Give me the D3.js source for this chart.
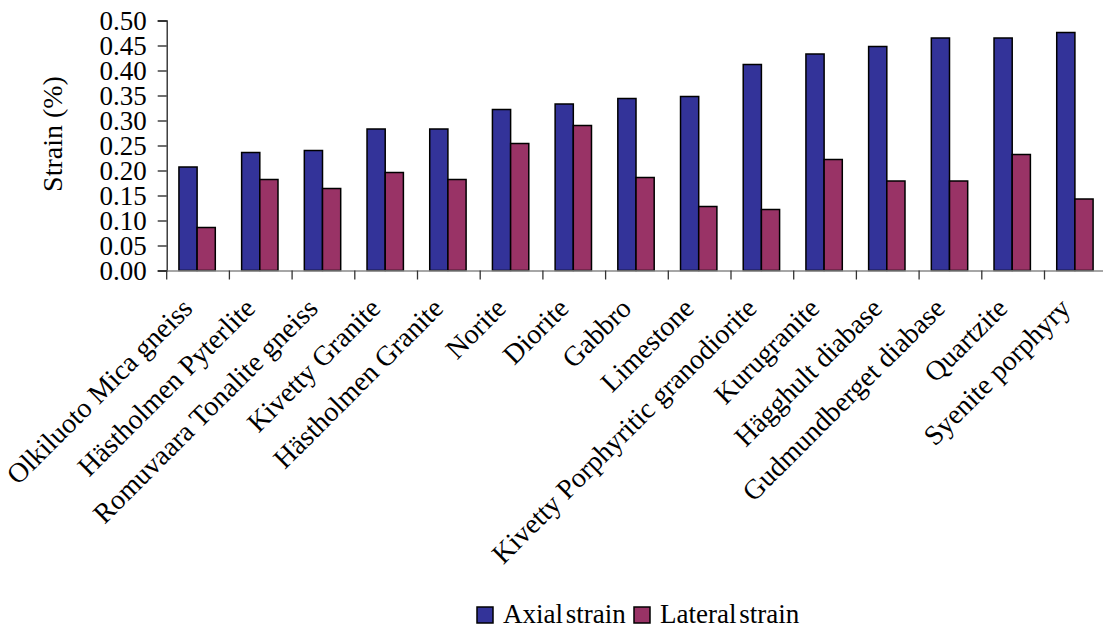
<!DOCTYPE html>
<html>
<head>
<meta charset="utf-8">
<script src="https://cdn.jsdelivr.net/npm/d3@7"></script>
<style>
  html, body { margin: 0; padding: 0; background: #ffffff; }
  svg { display: block; font-family: "Liberation Serif", "Times New Roman", serif; }
</style>
</head>
<body>
<svg id="chart" width="1103" height="628"></svg>
<script>
// Rock types, in order of increasing axial strain
const categories = [
  "Olkiluoto Mica gneiss", "Hästholmen Pyterlite", "Romuvaara Tonalite gneiss",
  "Kivetty Granite", "Hästholmen Granite", "Norite", "Diorite", "Gabbro",
  "Limestone", "Kivetty Porphyritic granodiorite", "Kurugranite",
  "Hägghult diabase", "Gudmundberget diabase", "Quartzite", "Syenite porphyry"
];
// Strain at failure (%)
const axialStrain   = [0.207, 0.236, 0.240, 0.283, 0.283, 0.322, 0.333, 0.344, 0.348, 0.412, 0.433, 0.448, 0.465, 0.465, 0.476];
const lateralStrain = [0.086, 0.182, 0.164, 0.196, 0.182, 0.254, 0.290, 0.186, 0.128, 0.122, 0.222, 0.179, 0.179, 0.232, 0.143];
const seriesNames = ["Axial strain", "Lateral strain"];
const seriesColors = ["#333399", "#993366"];
const yTicks = [0, 0.05, 0.10, 0.15, 0.20, 0.25, 0.30, 0.35, 0.40, 0.45, 0.50];

const svg = d3.select("#chart");
const plot = { left: 166.7, right: 1107.2, top: 20.5, bottom: 270.5 };

const x = d3.scaleBand().domain(categories).range([plot.left, plot.right]).padding(0);
const cw = x.bandwidth();
const xs = d3.scaleBand().domain(seriesNames).range([cw * 0.195, cw * 0.775]).padding(0);
const y = d3.scaleLinear().domain([0, 0.5]).range([plot.bottom, plot.top]);

const rows = categories.map((c, i) => ({ c, vals: [axialStrain[i], lateralStrain[i]] }));

// Bars
const groups = svg.append("g").selectAll("g").data(rows).join("g")
  .attr("transform", d => `translate(${x(d.c)},0)`);
groups.selectAll("rect")
  .data(d => d.vals.map((v, k) => ({ k, v })))
  .join("rect")
  .attr("x", d => xs(seriesNames[d.k]))
  .attr("width", xs.bandwidth())
  .attr("y", d => y(d.v))
  .attr("height", d => y(0) - y(d.v))
  .attr("fill", d => seriesColors[d.k])
  .attr("stroke", "#000")
  .attr("stroke-width", 1.5);

// Y axis
const yAxis = svg.append("g")
  .attr("transform", `translate(${plot.left},0)`)
  .call(d3.axisLeft(y).tickValues(yTicks).tickFormat(d3.format(".2f")).tickSize(9).tickPadding(11));
yAxis.select(".domain").attr("stroke", "#222").attr("stroke-width", 1.3);
yAxis.selectAll(".tick line").attr("stroke", "#222").attr("stroke-width", 1.3);
yAxis.selectAll(".tick text")
  .attr("font-size", 27).attr("fill", "#000")
  .attr("font-family", "'Liberation Serif', 'Times New Roman', serif");

// X axis: baseline plus tick marks at category boundaries
const xAxis = svg.append("g")
  .attr("transform", `translate(0,${plot.bottom})`)
  .call(d3.axisBottom(x).tickSize(0).tickFormat(""));
xAxis.select(".domain").attr("stroke", "#888").attr("stroke-width", 1.5);
const bounds = categories.map(c => x(c)).concat([x(categories[categories.length - 1]) + cw]);
xAxis.selectAll(".bound").data(bounds).join("line")
  .attr("class", "bound")
  .attr("x1", d => d).attr("x2", d => d)
  .attr("y1", 0).attr("y2", 9)
  .attr("stroke", "#333").attr("stroke-width", 1.3);

// Rotated category labels
svg.append("g").selectAll("text").data(categories).join("text")
  .attr("transform", d => `translate(${x(d) + cw / 2 - 4},${310}) rotate(-45)`)
  .attr("text-anchor", "end")
  .attr("font-size", 28)
  .attr("fill", "#000")
  .text(d => d);

// Y axis title
svg.append("text")
  .attr("transform", "translate(62,134) rotate(-90)")
  .attr("text-anchor", "middle")
  .attr("font-size", 28)
  .attr("fill", "#000")
  .text("Strain (%)");

// Legend
const legendX = [477, 634];
const legend = svg.append("g").selectAll("g").data(seriesNames).join("g")
  .attr("transform", (d, i) => `translate(${legendX[i]},607)`);
legend.append("rect")
  .attr("width", 16).attr("height", 16)
  .attr("fill", (d, i) => seriesColors[i])
  .attr("stroke", "#000").attr("stroke-width", 1.5);
legend.append("text")
  .attr("x", 26).attr("y", 15.5)
  .attr("font-size", 27)
  .attr("word-spacing", -4)
  .attr("fill", "#000")
  .text(d => d);
</script>
</body>
</html>
